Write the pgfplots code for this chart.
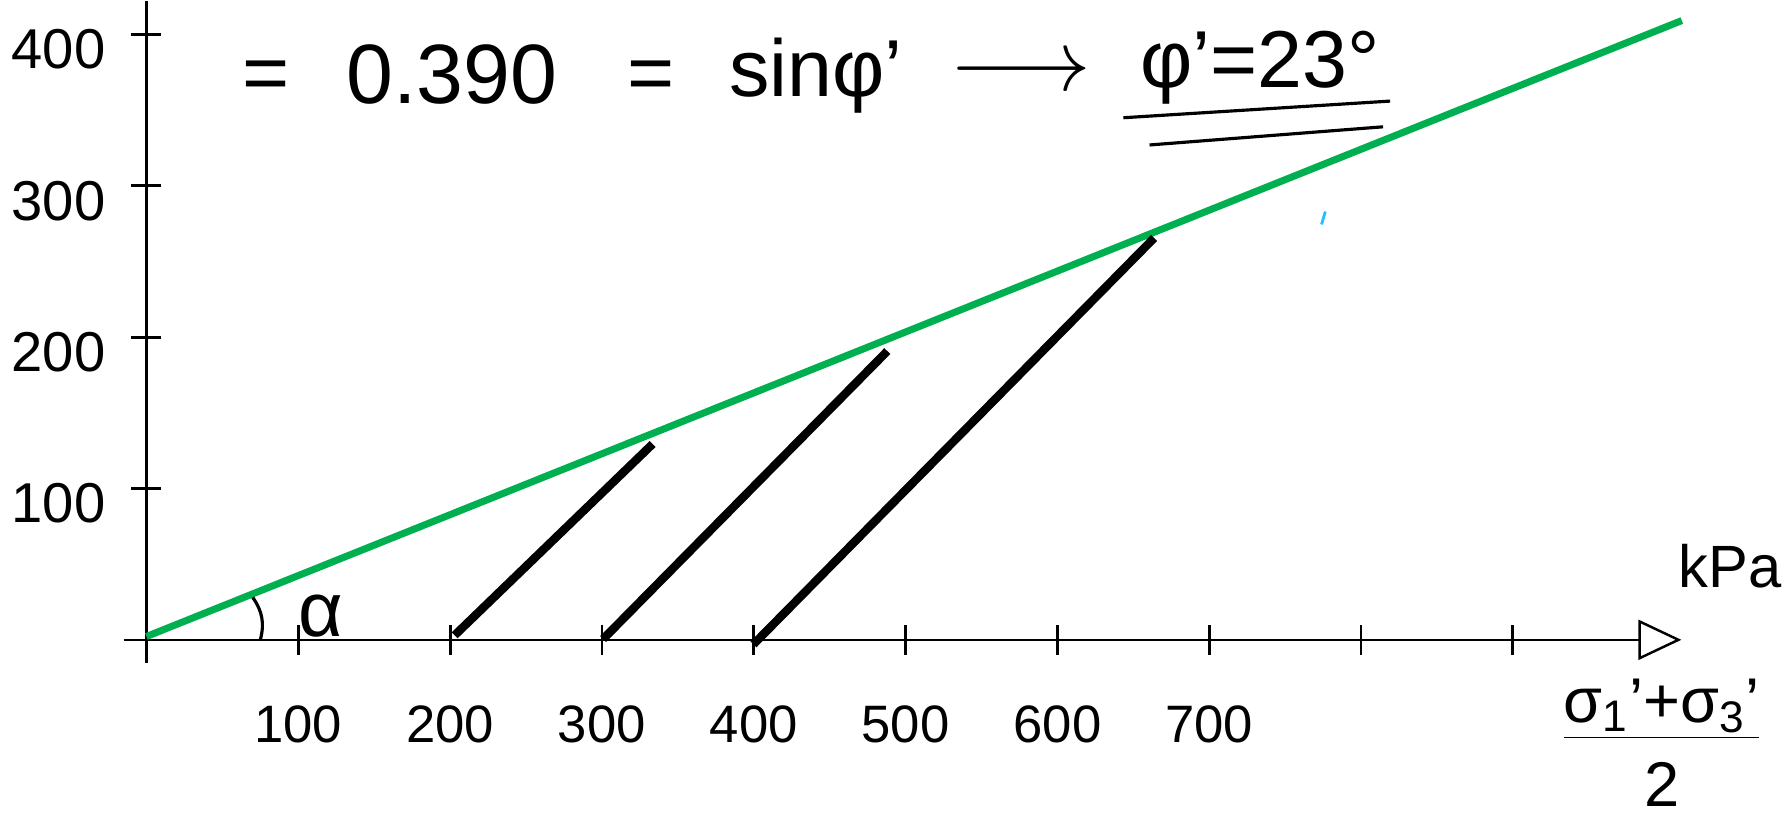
\documentclass[border=0pt]{standalone}
\usepackage{fontspec}
\setmainfont{Liberation Sans}
\usepackage{pgfplots}
\pgfplotsset{compat=1.18}
\usetikzlibrary{arrows.meta}
\definecolor{envgreen}{RGB}{0,176,80}
\definecolor{penblue}{RGB}{40,190,250}
\begin{document}
\begin{tikzpicture}
\begin{axis}[
  x=0.152mm, y=0.1515mm,
  xmin=-15, xmax=1011, ymin=-15, ymax=422,
  axis lines=middle,
  clip=false,
  x axis line style={line width=0.7pt, -{Triangle[open,length=4.3mm,width=4mm,line width=0.7pt]}},
  y axis line style={line width=0.7pt, -},
  xtick={100,200,...,900},
  xticklabels={100,200,300,400,500,600,700,{},{}},
  ytick={100,200,300,400},
  tick align=center,
  major tick length=3mm,
  tick style={black, line width=0.8pt},
  xticklabel style={anchor=center, yshift=-7.0mm, font=\fontsize{15}{18}\selectfont},
  yticklabel style={anchor=center, xshift=-7.3mm, yshift=-1.5mm, font=\fontsize{16}{19}\selectfont},
  /pgf/number format/assume math mode=true,
  /pgf/number format/1000 sep={},
]
% fixes the page to the reference's extent
\path (axis cs:-95.1,-120.8) rectangle (axis cs:1080.6,420.7);

% failure envelope
\addplot[envgreen, line width=2pt] coordinates {(0,2.2) (1011.3,409.2)};
% stress paths
\addplot[black, line width=2.4pt] coordinates {(203,3) (333.4,129.4)};
\addplot[black, line width=2.4pt] coordinates {(300.8,0.5) (488,190.8)};
\addplot[black, line width=2.4pt] coordinates {(399.8,-3) (663.7,265.5)};
% stray pen mark
\addplot[penblue, line width=0.8pt] coordinates {(774,274.5) (776.5,283)};

% angle
\draw[line width=0.9pt] (axis cs:70,28) to[bend left=25] (axis cs:75,0);
\node[inner sep=0, font=\fontsize{22}{26}\selectfont] at (axis cs:115,16) {α};

% top equation
\node[inner sep=0, font=\fontsize{23}{27}\selectfont] at (axis cs:78.8,369.6) {=};
\node[inner sep=0, font=\fontsize{24}{28}\selectfont] at (axis cs:201,373.6) {0.390};
\node[inner sep=0, font=\fontsize{23}{27}\selectfont] at (axis cs:332.3,369.6) {=};
\node[inner sep=0, font=\fontsize{23}{27}\selectfont] at (axis cs:441,373) {sinφ'};
\node[inner sep=0, font=\fontsize{23}{27}\selectfont] at (axis cs:576,373.6) {$\longrightarrow$};
\node[inner sep=0, font=\fontsize{23}{27}\selectfont] at (axis cs:733.4,378) {φ'=23°};
\draw[line width=0.9pt] (axis cs:643.5,345) -- (axis cs:819.2,356);
\draw[line width=0.9pt] (axis cs:660.7,327) -- (axis cs:814.5,339);

% axis labels
\node[inner sep=0, font=\fontsize{17}{20}\selectfont] at (axis cs:1043,48.8) {kPa};
\node[inner sep=0, align=center, font=\fontsize{18}{24}\selectfont] at (axis cs:998,-68)
  {\underline{σ\textsubscript{1}'+σ\textsubscript{3}'}\\2};
\end{axis}
\end{tikzpicture}
\end{document}
